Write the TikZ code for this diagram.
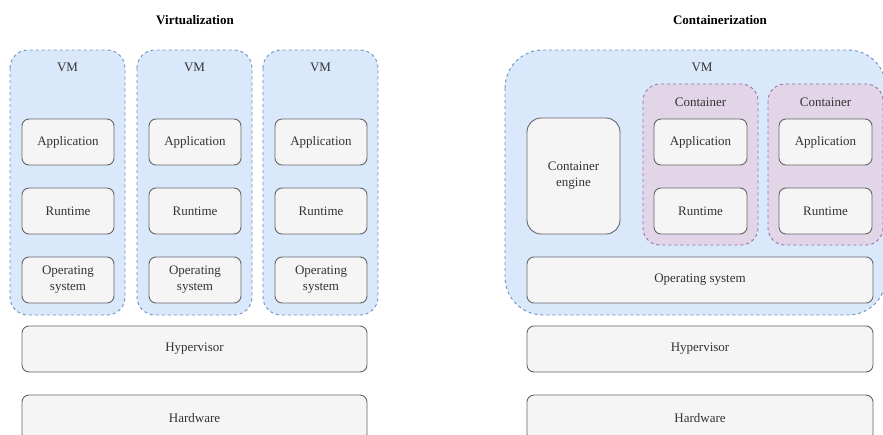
\documentclass[tikz,border=0pt]{standalone}
\usepackage{fontspec}
\setmainfont{Liberation Serif}
\begin{document}
\begin{tikzpicture}[x=1pt,y=-1pt,
  vmbox/.style={draw=vmline,fill=vmfill,dashed,dash pattern=on 3pt off 3pt,line width=0.9pt},
  ctbox/.style={draw=ctline,fill=ctfill,dashed,dash pattern=on 3pt off 3pt,line width=0.9pt},
  layer/.style={draw=boxline,fill=boxfill,line width=0.9pt,rounded corners=7pt},
  lbl/.style={font=\fontsize{13}{15}\selectfont,text=txt,align=center},
  ttl/.style={font=\fontsize{13}{15}\selectfont\bfseries,text=black}]
\definecolor{vmline}{HTML}{6C8EBF}
\definecolor{vmfill}{HTML}{DAE8FC}
\definecolor{ctline}{HTML}{9673A6}
\definecolor{ctfill}{HTML}{E1D5E7}
\definecolor{boxline}{HTML}{666666}
\definecolor{boxfill}{HTML}{F5F5F5}
\definecolor{txt}{HTML}{333333}
\useasboundingbox (0,0) rectangle (883,434);
\clip (0,0) rectangle (883,434);
\fill[white] (0,0) rectangle (883,434);
% titles
\node[ttl] (t1) at (195,20) {Virtualization};
\node[ttl] (t2) at (720,20) {Containerization};
% VMs left
\foreach \i/\x in {1/10,2/137,3/263}{
  \draw[vmbox,rounded corners=18pt] (\x,50) rectangle ++(115,265);
  \node[lbl] (vm\i) at (\x+57.5,67) {VM};
  \draw[layer] (\x+12,119) rectangle ++(92,46);
  \node[lbl] (app\i) at (\x+58,142) {Application};
  \draw[layer] (\x+12,188) rectangle ++(92,46);
  \node[lbl] (rt\i) at (\x+58,211) {Runtime};
  \draw[layer] (\x+12,257) rectangle ++(92,46);
  \node[lbl,font=\fontsize{13}{16}\selectfont] (os\i) at (\x+58,280) {Operating\\system};
}
\draw[layer] (22,326) rectangle (367,372);
\node[lbl] (hyp1) at (194.5,349) {Hypervisor};
\draw[layer] (22,395) rectangle (367,441);
\node[lbl] (hw1) at (194.5,418) {Hardware};
% right side
\draw[vmbox,rounded corners=38pt] (505,50) rectangle (886,315);
\node[lbl] (vmr) at (702,67) {VM};
\draw[layer,rounded corners=14pt] (527,118) rectangle (620,234);
\node[lbl,font=\fontsize{13}{16}\selectfont] (ce) at (573.5,176) {Container\\engine};
\foreach \j/\x in {1/643,2/768}{
  \draw[ctbox,rounded corners=17pt] (\x,84) rectangle ++(115,161);
  \node[lbl] (ct\j) at (\x+57.5,102) {Container};
  \draw[layer] (\x+11,119) rectangle ++(93,46);
  \node[lbl] (capp\j) at (\x+57.5,142) {Application};
  \draw[layer] (\x+11,188) rectangle ++(93,46);
  \node[lbl] (crt\j) at (\x+57.5,211) {Runtime};
}
\draw[layer] (527,257) rectangle (873,303);
\node[lbl] (osr) at (700,280) {Operating system};
\draw[layer] (527,326) rectangle (873,372);
\node[lbl] (hyp2) at (700,349) {Hypervisor};
\draw[layer] (527,395) rectangle (873,441);
\node[lbl] (hw2) at (700,418) {Hardware};
\end{tikzpicture}
\end{document}
